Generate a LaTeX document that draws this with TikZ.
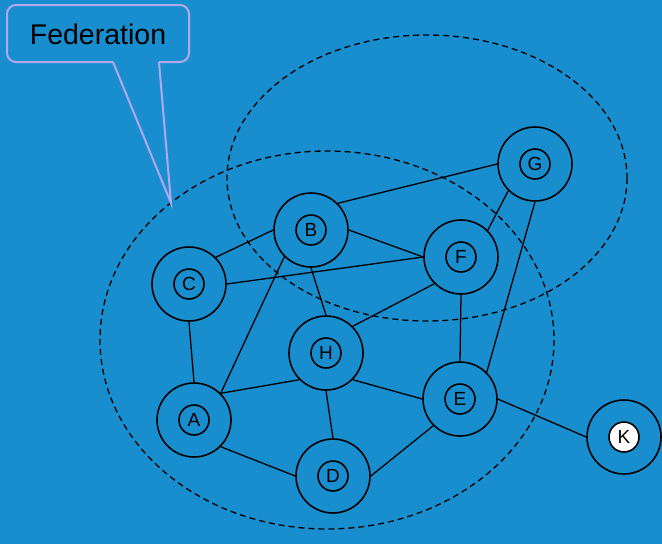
\documentclass[tikz,border=0pt]{standalone}
\usepackage{fontspec}
\setmainfont{Liberation Sans}
\definecolor{bg}{RGB}{24,142,206}
\definecolor{callout}{RGB}{178,168,238}
\tikzset{
  outer/.style={circle,draw=black,line width=1.6pt,minimum size=74pt,inner sep=0pt},
  inner/.style={circle,draw=black,line width=1.6pt,minimum size=30pt,inner sep=0pt,font=\fontsize{19}{19}\selectfont},
  edge/.style={draw=black,line width=1.3pt},
  fed/.style={draw=black,line width=1.3pt,dashed,dash pattern=on 6pt off 4pt}
}
\begin{document}
\begin{tikzpicture}[x=1pt,y=-1pt]
\fill[bg] (0,0) rectangle (662,544);
\useasboundingbox (0,0) rectangle (662,544);
% federations
\draw[fed] (327,340) ellipse [x radius=227,y radius=189];
\draw[fed] (427,178) ellipse [x radius=200,y radius=143];
% nodes
\foreach \n/\x/\y in {G/535/164,B/311/230,F/461/257,C/189/284,H/326/353,A/194/420,D/333/476,E/460/399,K/624/437}{
  \node[outer] (\n) at (\x,\y) {};
}
\foreach \n/\x/\y in {G/535/164,B/311/230,F/461/257,C/189/284,H/326/353,A/194/420,D/333/476,E/460/399}{
  \node[inner] (i\n) at (\x,\y) {\n};
}
\node[inner,fill=white] (iK) at (624,437) {K};
% edges
\draw[edge] (B.north east) -- (G.west);
\draw[edge] (B.west) -- (C.north east);
\draw[edge] (B.east) -- (F.west);
\draw[edge] (B.south) -- (H.north);
\draw[edge] (B.south west) -- (A.north east);
\draw[edge] (C.east) -- (F.west);
\draw[edge] (C.south) -- (A.north);
\draw[edge] (F.north east) -- (G.south west);
\draw[edge] (F.south west) -- (H.north east);
\draw[edge] (F.south) -- (E.north);
\draw[edge] (G.south) -- (E.north east);
\draw[edge] (H.south west) -- (A.north east);
\draw[edge] (H.south) -- (D.north);
\draw[edge] (H.south east) -- (E.west);
\draw[edge] (A.south east) -- (D.west);
\draw[edge] (D.east) -- (E.south west);
\draw[edge] (E.east) -- (K.west);
% callout
\coordinate (tip) at (171,203);
\draw[callout,line width=2pt,fill=bg,rounded corners=9pt]
  (159,62) -- (189,62) -- (189,5) -- (7,5) -- (7,62) -- (113,62);
\draw[callout,line width=2pt,line join=miter] (113,62) -- (tip) -- (159,62);
\node[font=\fontsize{28.5}{28.5}\selectfont,text=black] (fedlabel) at (98,34) {Federation};
\end{tikzpicture}
\end{document}
